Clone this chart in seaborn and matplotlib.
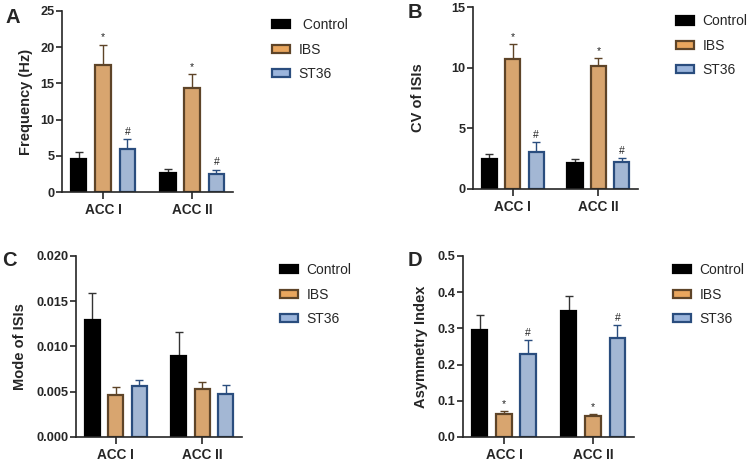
import numpy as np
import pandas as pd
import matplotlib
matplotlib.use("Agg")
import matplotlib.pyplot as plt
from matplotlib.patches import Patch
from matplotlib.ticker import FormatStrFormatter
import seaborn as sns

# Data (mean and upper SEM)
regions = ["ACC I", "ACC II"]
groups = ["Control", "IBS", "ST36"]

freq_mean = {"Control": [4.5, 2.6], "IBS": [17.5, 14.4], "ST36": [5.9, 2.55]}
freq_err = {"Control": [1.0, 0.55], "IBS": [2.85, 1.9], "ST36": [1.45, 0.55]}

cv_mean = {"Control": [2.45, 2.18], "IBS": [10.7, 10.1], "ST36": [3.05, 2.23]}
cv_err = {"Control": [0.4, 0.27], "IBS": [1.25, 0.7], "ST36": [0.85, 0.33]}

mode_mean = {"Control": [0.0129, 0.0089], "IBS": [0.0046, 0.0053], "ST36": [0.0056, 0.0048]}
mode_err = {"Control": [0.0030, 0.0027], "IBS": [0.0009, 0.0008], "ST36": [0.0007, 0.0009]}

asym_mean = {"Control": [0.295, 0.347], "IBS": [0.064, 0.058], "ST36": [0.228, 0.272]}
asym_err = {"Control": [0.042, 0.042], "IBS": [0.007, 0.005], "ST36": [0.040, 0.038]}

fill_colors = {"Control": "#000000", "IBS": "#E9A65E", "ST36": "#9BB5DC"}
edge_colors = {"Control": "#000000", "IBS": "#5E4428", "ST36": "#2A4D7E"}
err_colors = {"Control": "#333333", "IBS": "#5E4428", "ST36": "#2A4D7E"}

sns.set_style("ticks")
plt.rcParams["font.family"] = ["Liberation Sans", "DejaVu Sans"]


def to_long(means):
    rows = []
    for g in groups:
        for r, v in zip(regions, means[g]):
            rows.append({"region": r, "group": g, "value": v})
    return pd.DataFrame(rows)


def panel(ax, means, errs, ylabel, ymax, ystep, fmt, marks, label_x, first_label):
    df = to_long(means)
    sns.barplot(data=df, x="region", y="value", hue="group", hue_order=groups,
                palette=fill_colors, errorbar=None, width=0.82, gap=0.36,
                legend=False, ax=ax, zorder=2)
    for g, cont in zip(groups, ax.containers):
        xs, hs = [], []
        for p in cont.patches:
            p.set_edgecolor(edge_colors[g])
            p.set_linewidth(1.6)
            xs.append(p.get_x() + p.get_width() / 2)
            hs.append(p.get_height())
        e = np.array(errs[g])
        ax.errorbar(xs, hs, yerr=[np.zeros_like(e), e], fmt="none",
                    ecolor=err_colors[g], elinewidth=1.0, capsize=3,
                    capthick=1.0, zorder=1)
        if g in marks:
            for x, h, ee in zip(xs, hs, e):
                ax.annotate(marks[g], (x, h + ee), xytext=(0, 1.5),
                            textcoords="offset points", ha="center",
                            va="bottom", fontsize=7.5, color="#222222")
    ax.set_xlim(-0.46, 1.46)
    ax.set_ylim(0, ymax)
    ax.set_yticks(np.arange(0, ymax + ystep / 2, ystep))
    ax.yaxis.set_major_formatter(FormatStrFormatter(fmt))
    ax.set_xlabel("")
    ax.set_ylabel(ylabel, fontsize=10.5, fontweight="bold")
    ax.yaxis.set_label_coords(label_x, 0.5)
    sns.despine(ax=ax)
    for s in ["left", "bottom"]:
        ax.spines[s].set_linewidth(1.2)
    ax.tick_params(axis="y", labelsize=9.2, width=1.2, length=4, pad=1.5)
    ax.tick_params(axis="x", labelsize=9.8, width=1.2, length=5, pad=3)
    for t in ax.get_xticklabels() + ax.get_yticklabels():
        t.set_fontweight("bold")
    labels = [first_label, "IBS", "ST36"]
    handles = [Patch(facecolor=fill_colors[g], edgecolor=edge_colors[g],
                     linewidth=1.6) for g in groups]
    ax.legend(handles, labels, loc="upper left", bbox_to_anchor=(1.23, 0.96),
              frameon=False, fontsize=10, handlelength=1.3, handleheight=0.55,
              handletextpad=0.6, labelspacing=0.75, borderpad=0,
              borderaxespad=0)


fig = plt.figure(figsize=(7.5, 4.63), dpi=100)
axA = fig.add_axes([0.0827, 0.5853, 0.228, 0.391])
axB = fig.add_axes([0.6307, 0.5918, 0.220, 0.393])
axC = fig.add_axes([0.1013, 0.0562, 0.2213, 0.391])
axD = fig.add_axes([0.6173, 0.0562, 0.228, 0.391])

panel(axA, freq_mean, freq_err, "Frequency (Hz)", 25, 5, "%d",
      {"IBS": "*", "ST36": "#"}, -0.17, " Control")
panel(axB, cv_mean, cv_err, "CV of ISIs", 15, 5, "%d",
      {"IBS": "*", "ST36": "#"}, -0.29, "Control")
panel(axC, mode_mean, mode_err, "Mode of ISIs", 0.020, 0.005, "%.3f",
      {}, -0.295, "Control")
panel(axD, asym_mean, asym_err, "Asymmetry Index", 0.5, 0.1, "%.1f",
      {"IBS": "*", "ST36": "#"}, -0.205, "Control")

for letter, x, y in [("A", 5, 8), ("B", 408, 3), ("C", 2, 251), ("D", 408, 251)]:
    fig.text(x / 750, 1 - y / 463, letter, fontsize=14.5, fontweight="bold",
             ha="left", va="top")

fig.savefig("out.png", dpi=100)
